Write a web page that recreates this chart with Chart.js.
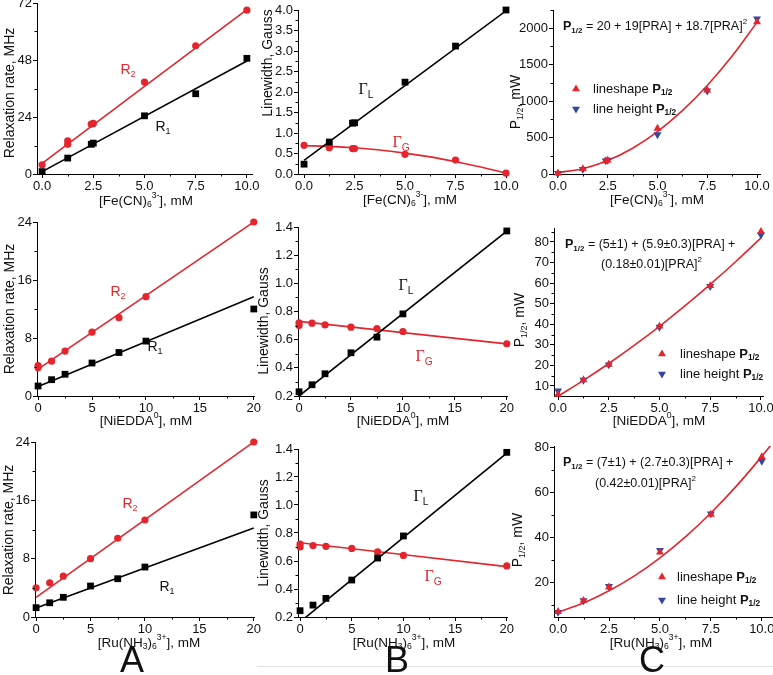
<!DOCTYPE html>
<html>
<head>
<meta charset="utf-8">
<script src="https://cdn.jsdelivr.net/npm/chart.js@4.4.1/dist/chart.umd.min.js"></script>
<style>
  html, body { margin: 0; padding: 0; background: #fff; }
  body { width: 773px; height: 675px; position: relative; overflow: hidden; }
  canvas { position: absolute; }
  .rule { position: absolute; left: 257px; top: 666px; width: 516px; height: 1px; background: #e2e2e2; }
</style>
</head>
<body>
<div class="rule"></div>
<script>
"use strict";

// ---- data ----

// shared concentration grids (mM)
var fitEnds10 = [0, 10];
var fitEnds20 = [0, 20];
var curveConc = [0, 1.25, 2.5, 3.75, 5, 6.25, 7.5, 8.75, 10];
var p12Conc = [0, 1.25, 2.5, 5, 7.5, 10];

// row 1: [Fe(CN)6]3-
var feConc = [0, 1.25, 2.4, 2.5, 5, 7.5, 10];
var feR2Conc = [0, 1.25, 1.25, 2.4, 2.5, 5, 7.5, 10];
var feR1 = [1.0, 6.7, 12.5, 13.0, 24.5, 33.8, 48.7];
var feR2 = [3.9, 12.5, 14.0, 21.0, 21.3, 38.7, 54.0, 69.0];
var feR1Fit = [1.0, 47.6];
var feR2Fit = [4.5, 69.2];
var feGammaL = [0.24, 0.78, 1.24, 1.25, 2.24, 3.12, 4.0];
var feGammaLFit = [0.33, 3.98];
var feGammaG = [0.70, 0.64, 0.67, 0.62, 0.62, 0.48, 0.34, 0.02];
var feGammaGFit = [0.69, 0.674, 0.64, 0.584, 0.51, 0.417, 0.30, 0.171, 0.02];
var feShape = [12, 72, 180, 188, 625, 1150, 2085];
var feHeight = [8, 65, 182, 190, 540, 1140, 2130];
var feP12Fit = [20, 73, 185, 354, 582, 869, 1215, 1618, 2080];

// row 2: NiEDDA
var niConc = [0, 1.25, 2.5, 5, 7.5, 10, 20];
var niR2Conc = [0, 0, 1.25, 2.5, 5, 7.5, 10, 20];
var niR1 = [1.38, 2.25, 3.0, 4.55, 6.0, 7.57, 12.0];
var niR2 = [4.2, 3.9, 4.8, 6.2, 8.8, 10.8, 13.7, 24.0];
var niR1Fit = [1.3, 13.7];
var niR2Fit = [3.7, 24.0];
var niGammaL = [0.23, 0.28, 0.358, 0.507, 0.618, 0.783, 1.372];
var niGammaLFit = [0.20, 1.37];
var niGammaG = [0.70, 0.72, 0.717, 0.705, 0.689, 0.679, 0.658, 0.571];
var niGammaGFit = [0.73, 0.57];
var niShape = [5.8, 12.9, 20.5, 39.0, 58.7, 85.0];
var niHeight = [7.6, 12.8, 20.3, 38.6, 58.4, 83.5];
var niP12Fit = [5, 12.7, 20.9, 29.7, 39.0, 48.9, 59.4, 70.4, 82.0];

// row 3: Ru(NH3)6 3+
var ruConc = [0, 1.25, 2.5, 5, 7.5, 10, 20];
var ruGammaGConc = [0, 0, 1.25, 2.5, 5, 7.5, 10, 20];
var ruR1 = [1.28, 1.95, 2.7, 4.25, 5.25, 6.85, 14.0];
var ruR2 = [4.0, 4.7, 5.6, 8.0, 10.8, 13.3, 24.0];
var ruR1Fit = [1.25, 12.2];
var ruR2Fit = [2.7, 24.0];
var ruGammaL = [0.245, 0.285, 0.333, 0.464, 0.621, 0.779, 1.376];
var ruGammaLFit = [0.165, 1.37];
var ruGammaG = [0.70, 0.72, 0.71, 0.705, 0.69, 0.665, 0.64, 0.565];
var ruGammaGFit = [0.73, 0.56];
var ruShape = [7.2, 12.1, 18.0, 33.5, 50.3, 75.8];
var ruHeight = [6.9, 12.1, 18.4, 34.4, 50.5, 73.9];
var ruCurveConc = [0, 1.25, 2.5, 3.75, 5, 6.25, 7.5, 8.75, 10, 10.6];
var ruP12Fit = [7, 11.0, 16.4, 23.0, 31.0, 40.3, 50.9, 62.8, 76.0, 82.8];

// tick labels
var ticks10 = [0, 2.5, 5, 7.5, 10];
var ticks20 = [0, 5, 10, 15, 20];
var feRateTicks = [0, 24, 48, 72];
var rateTicks = [0, 8, 16, 24];
var feWidthTicks = [0, 0.5, 1, 1.5, 2, 2.5, 3, 3.5, 4];
var widthTicks = [0.2, 0.4, 0.6, 0.8, 1.0, 1.2, 1.4];
var feP12Ticks = [0, 500, 1000, 1500, 2000];
var niP12Ticks = [10, 20, 30, 40, 50, 60, 70, 80];
var ruP12Ticks = [20, 40, 60, 80];


var RED = '#e4252d', BLUE = '#35479c', BLACK = '#000';
var SANS = "'Liberation Sans', Arial, sans-serif";
var SERIF = "'Liberation Serif', 'Times New Roman', serif";

Chart.defaults.font.family = SANS;
Chart.defaults.font.size = 13;
Chart.defaults.color = '#111';


// Datasets
function pts(xs, ys) {
    return xs.map(function (x, i) { return {x: x, y: ys[i]}; });
}
function marks(xs, ys, color, style, down) {
    return {
        data: pts(xs, ys), showLine: false, clip: false,
        pointStyle: style, pointRadius: style === 'rect' ? 4.8 : (style === 'circle' ? 3.6 : 4.6),
        pointRotation: down ? 180 : 0,
        pointBackgroundColor: color, pointBorderColor: color, pointBorderWidth: 0
    };
}
function fit(xs, ys, color) {
    return {
        data: pts(xs, ys), showLine: true, pointRadius: 0,
        borderColor: color, borderWidth: 1.6, cubicInterpolationMode: 'monotone'
    };
}


// Rich text: _{sub} ^{sup} **bold** ~serif~
function parse(str) {
    var out = [], bold = false, serif = false;
    str.split(/(_\{[^}]*\}|\^\{[^}]*\}|\*\*|~)/).forEach(function (tok) {
        if (!tok) return;
        if (tok === '**') { bold = !bold; return; }
        if (tok === '~') { serif = !serif; return; }
        var kind = '';
        if (tok.indexOf('_{') === 0) { kind = 's'; tok = tok.slice(2, -1); }
        else if (tok.indexOf('^{') === 0) { kind = 'u'; tok = tok.slice(2, -1); }
        out.push({t: tok, kind: kind, bold: bold, serif: serif});
    });
    return out;
}
function T(str, x, y, o) {
    o = o || {};
    return {parts: parse(str), x: x, y: y, size: o.s || 13, color: o.c || '#111', align: o.a || 'center', rot: !!o.r};
}
function M(dir, x, y, color) {
    return {mark: dir, x: x, y: y, color: color};
}

function drawText(ctx, it, ox, oy) {
    var size = it.size;
    var segs = it.parts.map(function (p) {
        var s = p.kind ? size * 0.64 : size;
        return {
            t: p.t,
            font: (p.bold ? 'bold ' : '') + s + 'px ' + (p.serif ? SERIF : SANS),
            dy: p.kind === 's' ? size * 0.3 : (p.kind === 'u' ? -size * 0.38 : 0)
        };
    });
    ctx.save();
    ctx.textBaseline = 'middle';
    ctx.fillStyle = it.color;
    var w = 0;
    segs.forEach(function (s) { ctx.font = s.font; s.w = ctx.measureText(s.t).width; w += s.w; });
    ctx.translate(it.x - ox, it.y - oy);
    if (it.rot) ctx.rotate(-Math.PI / 2);
    var x = it.align === 'left' ? 0 : -w / 2;
    segs.forEach(function (s) { ctx.font = s.font; ctx.fillText(s.t, x, s.dy); x += s.w; });
    ctx.restore();
}

function drawMark(ctx, it, ox, oy) {
    var r = 4.6, x = it.x - ox, y = it.y - oy, a = it.mark === 'down' ? Math.PI : 0;
    ctx.save();
    ctx.fillStyle = it.color;
    ctx.beginPath();
    for (var i = 0; i < 3; i++) {
        var px = x + Math.sin(a) * r, py = y - Math.cos(a) * r;
        if (i === 0) ctx.moveTo(px, py); else ctx.lineTo(px, py);
        a += 2 * Math.PI / 3;
    }
    ctx.closePath();
    ctx.fill();
    ctx.restore();
}

var textPlugin = {
    id: 'richText',
    afterDraw: function (chart, args, opts) {
        (opts.items || []).forEach(function (it) {
            if (it.mark) drawMark(chart.ctx, it, opts.ox, opts.oy);
            else drawText(chart.ctx, it, opts.ox, opts.oy);
        });
    }
};


// Minor ticks halfway between the major ones
function minors(scale) {
    var t = scale.ticks.map(function (k) { return k.value; });
    var step = t[1] - t[0], out = [];
    for (var i = -1; i < t.length; i++) {
        var v = t[0] + (i + 0.5) * step;
        if (v >= scale.min - 1e-9 && v <= scale.max + 1e-9) out.push(v);
    }
    return out;
}
var minorPlugin = {
    id: 'minorTicks',
    afterDraw: function (chart) {
        var ctx = chart.ctx, a = chart.chartArea, xs = chart.scales.x, ys = chart.scales.y;
        ctx.save();
        ctx.strokeStyle = '#000';
        ctx.lineWidth = 1;
        ctx.beginPath();
        minors(xs).forEach(function (v) {
            var p = Math.round(xs.getPixelForValue(v)) + 0.5;
            ctx.moveTo(p, a.bottom); ctx.lineTo(p, a.bottom + 2.5);
        });
        minors(ys).forEach(function (v) {
            var p = Math.round(ys.getPixelForValue(v)) + 0.5;
            ctx.moveTo(a.left, p); ctx.lineTo(a.left - 2.5, p);
        });
        ctx.stroke();
        ctx.restore();
    }
};


// One panel: its plot area is pinned to a box in page pixels
var PADL = 60, PADT = 20, PADR = 20, PADB = 70;

function axis(r, horizontal) {
    var ticks = r[2], dec = r[3];
    return {
        type: 'linear', min: r[0], max: r[1],
        afterBuildTicks: function (s) {
            s.ticks = ticks.map(function (v) { return {value: v}; });
        },
        afterFit: function (s) {
            if (horizontal) s.height = PADB; else s.width = PADL;
            s.paddingTop = s.paddingBottom = s.paddingLeft = s.paddingRight = 0;
        },
        grid: {drawOnChartArea: false, drawTicks: true, tickLength: 4, color: '#000', lineWidth: 1},
        border: {display: true, color: '#000', width: 1},
        ticks: {
            padding: 1, color: '#111', font: {size: 13}, autoSkip: false, maxRotation: 0,
            callback: function (v) { return Number(v).toFixed(dec); }
        }
    };
}

function panel(box, cfg) {
    var c = document.createElement('canvas');
    var ox = box.l - PADL, oy = box.t - PADT;
    c.width = box.r - box.l + PADL + PADR;
    c.height = box.b - box.t + PADT + PADB;
    c.style.left = ox + 'px';
    c.style.top = oy + 'px';
    document.body.appendChild(c);
    return new Chart(c.getContext('2d'), {
        type: 'scatter',
        data: {datasets: cfg.data},
        options: {
            responsive: false, animation: false, devicePixelRatio: 1,
            layout: {padding: {left: 0, top: PADT, right: PADR, bottom: 0}},
            scales: {x: axis(cfg.x, true), y: axis(cfg.y, false)},
            plugins: {
                legend: {display: false}, tooltip: {enabled: false},
                richText: {items: cfg.text, ox: ox, oy: oy}
            }
        },
        plugins: [minorPlugin, textPlugin]
    });
}


// Column A: relaxation rates
panel({l: 37, t: 3, r: 252, b: 174}, {
    x: [-0.25, 10.25, ticks10, 1], y: [0, 72, feRateTicks, 0],
    data: [marks(feConc, feR1, BLACK, 'rect'), marks(feR2Conc, feR2, RED, 'circle'),
           fit(fitEnds10, feR1Fit, BLACK), fit(fitEnds10, feR2Fit, RED)],
    text: [T('Relaxation rate, MHz', 10, 93, {r: 1, s: 14}),
           T('[Fe(CN)_{6}^{3-}], mM', 146, 201, {s: 13.5}),
           T('R_{2}', 128, 70, {c: RED, s: 14}),
           T('R_{1}', 163, 127, {s: 14})]
});
panel({l: 37, t: 222, r: 254, b: 396}, {
    x: [-0.1, 20.02, ticks20, 0], y: [0, 24, rateTicks, 0],
    data: [marks(niConc, niR1, BLACK, 'rect'), marks(niR2Conc, niR2, RED, 'circle'),
           fit(fitEnds20, niR1Fit, BLACK), fit(fitEnds20, niR2Fit, RED)],
    text: [T('Relaxation rate, MHz', 10, 309, {r: 1, s: 14}),
           T('[NiEDDA^{0}], mM', 146, 421, {s: 13.5}),
           T('R_{2}', 118, 292, {c: RED, s: 14}),
           T('R_{1}', 155, 347, {s: 14})]
});
panel({l: 35, t: 442, r: 254, b: 617}, {
    x: [-0.1, 20.02, ticks20, 0], y: [0, 24, rateTicks, 0],
    data: [marks(ruConc, ruR1, BLACK, 'rect'), marks(ruConc, ruR2, RED, 'circle'),
           fit(fitEnds20, ruR1Fit, BLACK), fit(fitEnds20, ruR2Fit, RED)],
    text: [T('Relaxation rate, MHz', 9, 530, {r: 1, s: 14}),
           T('[Ru(NH_{3})_{6}^{3+}], mM', 149, 643, {s: 13.5}),
           T('R_{2}', 130, 504, {c: RED, s: 14}),
           T('R_{1}', 167, 587, {s: 14}),
           T('A', 132, 662, {s: 36})]
});

// Column B: linewidths
panel({l: 298, t: 10, r: 506, b: 174}, {
    x: [-0.3, 10, ticks10, 1], y: [0, 4.0, feWidthTicks, 1],
    data: [marks(feConc, feGammaL, BLACK, 'rect'), marks(feR2Conc, feGammaG, RED, 'circle'),
           fit(fitEnds10, feGammaLFit, BLACK), fit(curveConc, feGammaGFit, RED)],
    text: [T('Linewidth, Gauss', 268, 63, {r: 1, s: 14}),
           T('[Fe(CN)_{6}^{3-}], mM', 410, 200, {s: 13.5}),
           T('~Γ~_{L}', 366, 90, {s: 16}),
           T('~Γ~_{G}', 401, 143, {c: RED, s: 16})]
});
panel({l: 298, t: 227, r: 507, b: 396}, {
    x: [-0.1, 20.02, ticks20, 0], y: [0.2, 1.4, widthTicks, 1],
    data: [marks(niConc, niGammaL, BLACK, 'rect'), marks(niR2Conc, niGammaG, RED, 'circle'),
           fit(fitEnds20, niGammaLFit, BLACK), fit(fitEnds20, niGammaGFit, RED)],
    text: [T('Linewidth, Gauss', 264, 321, {r: 1, s: 14}),
           T('[NiEDDA^{0}], mM', 403, 421, {s: 13.5}),
           T('~Γ~_{L}', 406, 286, {s: 16}),
           T('~Γ~_{G}', 424, 357, {c: RED, s: 16})]
});
panel({l: 298, t: 449, r: 507, b: 617}, {
    x: [-0.2, 20.02, ticks20, 0], y: [0.2, 1.4, widthTicks, 1],
    data: [marks(ruConc, ruGammaL, BLACK, 'rect'), marks(ruGammaGConc, ruGammaG, RED, 'circle'),
           fit(fitEnds20, ruGammaLFit, BLACK), fit(fitEnds20, ruGammaGFit, RED)],
    text: [T('Linewidth, Gauss', 264, 533, {r: 1, s: 14}),
           T('[Ru(NH_{3})_{6}^{3+}], mM', 404, 643, {s: 13.5}),
           T('~Γ~_{L}', 421, 497, {s: 16}),
           T('~Γ~_{G}', 433, 577, {c: RED, s: 16}),
           T('B', 397, 662, {s: 36})]
});

// Column C: half-saturation power
panel({l: 553, t: 10, r: 760, b: 174}, {
    x: [-0.25, 10.15, ticks10, 1], y: [0, 2250, feP12Ticks, 0],
    data: [marks(feConc, feShape, RED, 'triangle'), marks(feConc, feHeight, BLUE, 'triangle', true),
           fit(curveConc, feP12Fit, RED)],
    text: [T('P_{1/2}, mW', 516, 102, {r: 1, s: 14}),
           T('[Fe(CN)_{6}^{3-}], mM', 657, 200, {s: 13.5}),
           T('**P_{1/2}** = 20 + 19[PRA] + 18.7[PRA]^{2}', 563, 27, {a: 'left', s: 12.5}),
           M('up', 576, 89, RED), T('lineshape **P_{1/2}**', 593, 89, {a: 'left'}),
           M('down', 576, 109, BLUE), T('line height **P_{1/2}**', 593, 109, {a: 'left'})]
});
panel({l: 554, t: 228, r: 763, b: 396}, {
    x: [-0.2, 10.1, ticks10, 1], y: [5.1, 86.8, niP12Ticks, 0],
    data: [marks(p12Conc, niShape, RED, 'triangle'), marks(p12Conc, niHeight, BLUE, 'triangle', true),
           fit(curveConc, niP12Fit, RED)],
    text: [T('P_{1/2}, mW', 520, 320, {r: 1, s: 14}),
           T('[NiEDDA^{0}], mM', 659, 421, {s: 13.5}),
           T('**P_{1/2}** = (5±1) + (5.9±0.3)[PRA] +', 565, 245, {a: 'left', s: 12.5}),
           T('(0.18±0.01)[PRA]^{2}', 601, 265, {a: 'left', s: 12.5}),
           M('up', 662, 354, RED), T('lineshape **P_{1/2}**', 680, 354, {a: 'left'}),
           M('down', 662, 374, BLUE), T('line height **P_{1/2}**', 680, 374, {a: 'left'})]
});
panel({l: 554, t: 446, r: 773, b: 617}, {
    x: [-0.2, 10.55, ticks10, 1], y: [4.8, 80.6, ruP12Ticks, 0],
    data: [marks(p12Conc, ruShape, RED, 'triangle'), marks(p12Conc, ruHeight, BLUE, 'triangle', true),
           fit(ruCurveConc, ruP12Fit, RED)],
    text: [T('P_{1/2}, mW', 518, 540, {r: 1, s: 14}),
           T('[Ru(NH_{3})_{6}^{3+}], mM', 661, 643, {s: 13.5}),
           T('**P_{1/2}** = (7±1) + (2.7±0.3)[PRA] +', 563, 463, {a: 'left', s: 12.5}),
           T('(0.42±0.01)[PRA]^{2}', 595, 484, {a: 'left', s: 12.5}),
           M('up', 662, 577, RED), T('lineshape **P_{1/2}**', 677, 577, {a: 'left'}),
           M('down', 662, 600, BLUE), T('line height **P_{1/2}**', 677, 600, {a: 'left'}),
           T('C', 652, 662, {s: 36})]
});
</script>
</body>
</html>
